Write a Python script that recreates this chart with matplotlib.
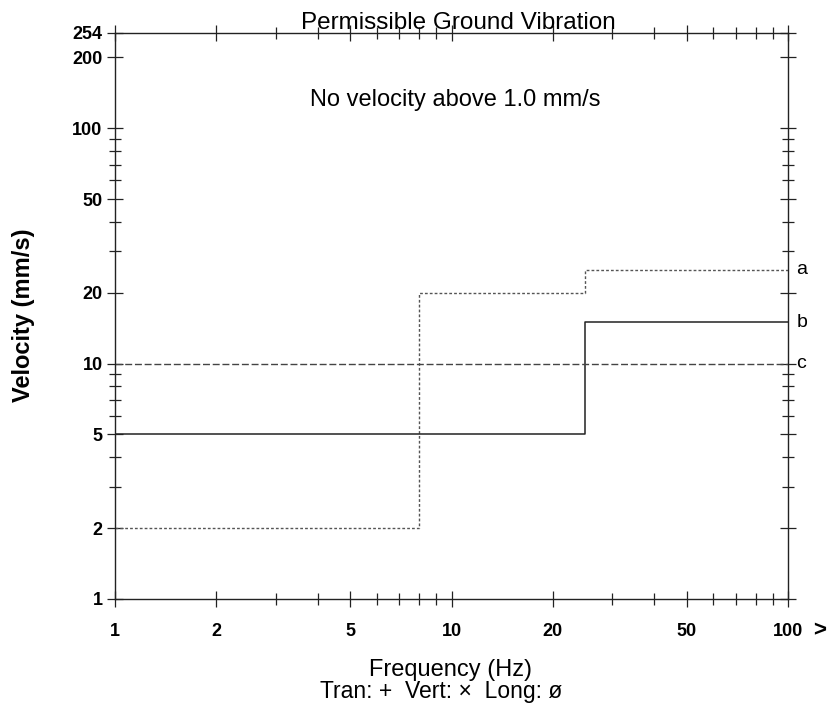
import matplotlib.pyplot as plt
from matplotlib.ticker import FixedLocator, NullFormatter

plt.rcParams['font.family'] = ['Liberation Sans', 'DejaVu Sans']

### data
# step limits: frequency breakpoints (Hz) and velocity (mm/s) per curve
freq_a = [1, 8, 8, 25, 25, 100]
vel_a = [2, 2, 20, 20, 25, 25]
freq_b = [1, 25, 25, 100]
vel_b = [5, 5, 15, 15]
freq_c = [1, 100]
vel_c = [10, 10]
curve_labels = ["a", "b", "c"]
curve_ends = [25, 15, 10]

x_ticks = [1, 2, 5, 10, 20, 50, 100]
y_ticks = [1, 2, 5, 10, 20, 50, 100, 200, 254]

### plot
fig = plt.figure(figsize=(8.31, 7.08), dpi=100)
ax = fig.add_axes([0.1384, 0.154, 0.810, 0.7994])
ax.set_xscale('log')
ax.set_yscale('log')
ax.set_xlim(1, 100)
ax.set_ylim(1, 254)

ax.plot(freq_a, vel_a, color='#555555', lw=1.0, ls=(0, (2, 1.5)))
ax.plot(freq_b, vel_b, color='#222222', lw=1.1, ls='-')
ax.plot(freq_c, vel_c, color='#444444', lw=1.0, ls=(0, (5, 2)))

for lab, v in zip(curve_labels, curve_ends):
    ax.text(1.012, v, lab, transform=ax.get_yaxis_transform(), fontsize=14,
            va='center', ha='left')

ax.xaxis.set_major_locator(FixedLocator(x_ticks))
ax.set_xticklabels([str(t) for t in x_ticks])
ax.xaxis.set_minor_formatter(NullFormatter())
ax.yaxis.set_major_locator(FixedLocator(y_ticks))
ax.set_yticklabels([str(t) for t in y_ticks])
ax.yaxis.set_minor_formatter(NullFormatter())

ax.tick_params(which='both', direction='inout', top=True, right=True,
               width=0.9, color='#222222')
ax.tick_params(which='major', length=12, labelsize=13)
ax.tick_params(which='minor', length=8)
ax.tick_params(axis='x', which='major', pad=11)
ax.tick_params(axis='y', which='major', pad=3)
for t in ax.get_xticklabels() + ax.get_yticklabels():
    t.set_fontweight('bold')

for s in ax.spines.values():
    s.set_linewidth(1.0)
    s.set_color('#222222')

fig.text(0.986, 0.109, ">", fontsize=16, fontweight='bold',
         ha='center', va='center', rotation=0)

fig.text(0.552, 0.9675, "Permissible Ground Vibration", fontsize=17.5,
         ha='center', va='center')
fig.text(0.5475, 0.859, "No velocity above 1.0 mm/s", fontsize=17,
         ha='center', va='center')

fig.text(0.5427, 0.054, "Frequency (Hz)", fontsize=17, ha='center', va='center')
fig.text(0.5307, 0.023, "Tran: +  Vert: \u00d7  Long: \u00f8", fontsize=16.5,
         ha='center', va='center')
fig.text(0.028, 0.555, "Velocity (mm/s)", fontsize=17, fontweight='bold',
         rotation=90, ha='center', va='center')

plt.savefig("out.png", dpi=100)
